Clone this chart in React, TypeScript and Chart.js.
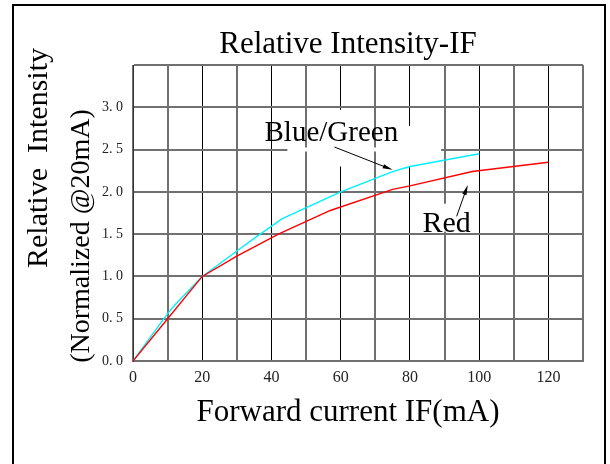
import { useEffect, useRef } from 'react';
import { Chart, registerables } from 'chart.js';

Chart.register(...registerables);

// ---- data ----
const currentBlueGreen = [0, 10, 12, 20, 26, 30, 35, 43, 60, 75, 80, 100];
const intensityBlueGreen = [0, 0.56, 0.66, 1.0, 1.18, 1.3, 1.45, 1.68, 2.0, 2.24, 2.3, 2.45];
const currentRed = [0, 10, 20, 30, 42, 57, 75, 80, 98, 120];
const intensityRed = [0, 0.5, 1.0, 1.24, 1.5, 1.78, 2.03, 2.07, 2.24, 2.35];
const xTickLabels = ['0', '20', '40', '60', '80', '100', '120'];
const yTickLabels = ['0. 0', '0. 5', '1. 0', '1. 5', '2. 0', '2. 5', '3. 0'];
const titleText = 'Relative Intensity-IF';
const xTitleText = 'Forward current IF(mA)';
const yTitleLine1 = 'Relative  Intensity';
const yTitleLine2 = '(Normalized @20mA)';
const seriesNames = ['Red', 'Blue/Green'];

const SERIF = '"Liberation Serif", "Times New Roman", serif';

// breaks in the grid left by the scanned label boxes (data coordinates)
const gridGaps = [
  { axis: 'y', at: 2.5, from: 44.6, to: 89 },
  { axis: 'x', at: 60, from: 2.97, to: 2.3 },
  { axis: 'x', at: 80, from: 2.78, to: 2.3 },
  { axis: 'x', at: 90, from: 1.86, to: 1.53 },
];

function arrow(ctx: CanvasRenderingContext2D, x1: number, y1: number, x2: number, y2: number) {
  const ang = Math.atan2(y2 - y1, x2 - x1);
  const len = 10;
  const hw = 2.2;
  ctx.beginPath();
  ctx.moveTo(x1, y1);
  ctx.lineTo(x2 - Math.cos(ang) * len * 0.6, y2 - Math.sin(ang) * len * 0.6);
  ctx.stroke();
  ctx.beginPath();
  ctx.moveTo(x2, y2);
  ctx.lineTo(x2 - Math.cos(ang) * len - Math.sin(ang) * hw, y2 - Math.sin(ang) * len + Math.cos(ang) * hw);
  ctx.lineTo(x2 - Math.cos(ang) * len + Math.sin(ang) * hw, y2 - Math.sin(ang) * len - Math.cos(ang) * hw);
  ctx.closePath();
  ctx.fill();
}

const annotPlugin = {
  id: 'annot',
  beforeDatasetsDraw(chart: any) {
    const { ctx, scales } = chart;
    const x = scales.x;
    const y = scales.y;
    ctx.save();
    ctx.strokeStyle = '#ffffff';
    ctx.lineWidth = 4;
    for (const g of gridGaps) {
      ctx.beginPath();
      if (g.axis === 'y') {
        const py = y.getPixelForValue(g.at);
        ctx.moveTo(x.getPixelForValue(g.from), py);
        ctx.lineTo(x.getPixelForValue(g.to), py);
      } else {
        const px = x.getPixelForValue(g.at);
        ctx.moveTo(px, y.getPixelForValue(g.from));
        ctx.lineTo(px, y.getPixelForValue(g.to));
      }
      ctx.stroke();
    }
    ctx.restore();
  },
  afterDatasetsDraw(chart: any) {
    const { ctx, scales } = chart;
    const x = scales.x;
    const y = scales.y;
    ctx.save();
    ctx.fillStyle = '#000';
    ctx.strokeStyle = '#000';
    ctx.lineWidth = 1;
    ctx.textAlign = 'center';
    ctx.textBaseline = 'alphabetic';
    ctx.font = `29px ${SERIF}`;
    ctx.fillText(seriesNames[1], x.getPixelForValue(57.3), y.getPixelForValue(2.6));
    ctx.font = `30px ${SERIF}`;
    ctx.fillText(seriesNames[0], x.getPixelForValue(90.6), y.getPixelForValue(1.53));
    arrow(ctx, x.getPixelForValue(58.2), y.getPixelForValue(2.53), x.getPixelForValue(75), y.getPixelForValue(2.26));
    arrow(ctx, x.getPixelForValue(93.5), y.getPixelForValue(1.71), x.getPixelForValue(96.7), y.getPixelForValue(2.08));
    ctx.restore();
  },
  afterDraw(chart: any) {
    const { ctx } = chart;
    ctx.save();
    ctx.fillStyle = '#000';
    ctx.textAlign = 'center';
    ctx.textBaseline = 'alphabetic';
    ctx.font = `31px ${SERIF}`;
    ctx.fillText(titleText, 348, 52.5);
    ctx.fillText(xTitleText, 348, 421);
    ctx.save();
    ctx.translate(47, 158);
    ctx.rotate(-Math.PI / 2);
    ctx.font = `30px ${SERIF}`;
    ctx.fillText(yTitleLine1, 0, 0);
    ctx.restore();
    ctx.save();
    ctx.translate(89, 236);
    ctx.rotate(-Math.PI / 2);
    ctx.font = `28px ${SERIF}`;
    ctx.fillText(yTitleLine2, 0, 0);
    ctx.restore();
    ctx.restore();
  },
};

export default function App() {
  const canvasRef = useRef<HTMLCanvasElement | null>(null);

  useEffect(() => {
    const canvas = canvasRef.current;
    if (!canvas) return;
    const chart = new Chart(canvas, {
      type: 'line',
      data: {
        datasets: [
          {
            label: seriesNames[0],
            data: currentRed.map((c, i) => ({ x: c, y: intensityRed[i] })),
            borderColor: '#ff0000',
            borderWidth: 1.4,
            pointRadius: 0,
            tension: 0,
            fill: false,
          },
          {
            label: seriesNames[1],
            data: currentBlueGreen.map((c, i) => ({ x: c, y: intensityBlueGreen[i] })),
            borderColor: '#00f0ff',
            borderWidth: 1.4,
            pointRadius: 0,
            tension: 0,
            fill: false,
          },
        ],
      },
      options: {
        animation: false,
        responsive: false,
        devicePixelRatio: 1,
        layout: { padding: { left: 0, right: 27, top: 65, bottom: 0 } },
        plugins: {
          legend: { display: false },
          title: { display: false },
          tooltip: { enabled: false },
        },
        scales: {
          x: {
            type: 'linear',
            min: 0,
            max: 130,
            afterFit: (s: any) => {
              s.height = 103;
            },
            afterBuildTicks: (s: any) => {
              const t = [];
              for (let v = 0; v <= 130; v += 10) t.push({ value: v });
              s.ticks = t;
            },
            ticks: {
              autoSkip: false,
              maxRotation: 0,
              padding: 7,
              color: '#222',
              font: { family: SERIF, size: 16 },
              callback: (v: any) => {
                const n = Number(v);
                return n % 20 === 0 ? xTickLabels[n / 20] ?? '' : '';
              },
            },
            grid: {
              drawTicks: false,
              color: (c: any) => (c.tick && c.tick.value % 20 === 0 && c.tick.value > 0 && c.tick.value <= 120 ? '#000' : '#707070'),
              lineWidth: (c: any) => (c.tick && c.tick.value % 20 === 0 && c.tick.value > 0 && c.tick.value <= 120 ? 1 : 2),
            },
            border: { color: '#707070', width: 2 },
          },
          y: {
            type: 'linear',
            min: 0,
            max: 3.5,
            afterFit: (s: any) => {
              s.width = 133;
            },
            afterBuildTicks: (s: any) => {
              const t = [];
              for (let i = 0; i <= 7; i++) t.push({ value: i * 0.5 });
              s.ticks = t;
            },
            ticks: {
              autoSkip: false,
              padding: 10,
              color: '#222',
              font: { family: SERIF, size: 14 },
              callback: (v: any) => yTickLabels[Math.round(Number(v) / 0.5)] ?? '',
            },
            grid: {
              drawTicks: false,
              color: '#707070',
              lineWidth: 2,
            },
            border: { color: '#333', width: 1 },
          },
        },
      },
      plugins: [annotPlugin],
    });
    return () => chart.destroy();
  }, []);

  return (
    <div style={{ position: 'fixed', left: 0, top: 0, width: 610, height: 464, overflow: 'hidden', background: '#fff' }}>
      <canvas ref={canvasRef} width={610} height={464} style={{ display: 'block', position: 'absolute', left: 0, top: 0 }} />
      <div
        style={{
          position: 'absolute',
          left: 12,
          top: 4,
          width: 590,
          height: 520,
          border: '2px solid #000',
          pointerEvents: 'none',
        }}
      />
    </div>
  );
}
